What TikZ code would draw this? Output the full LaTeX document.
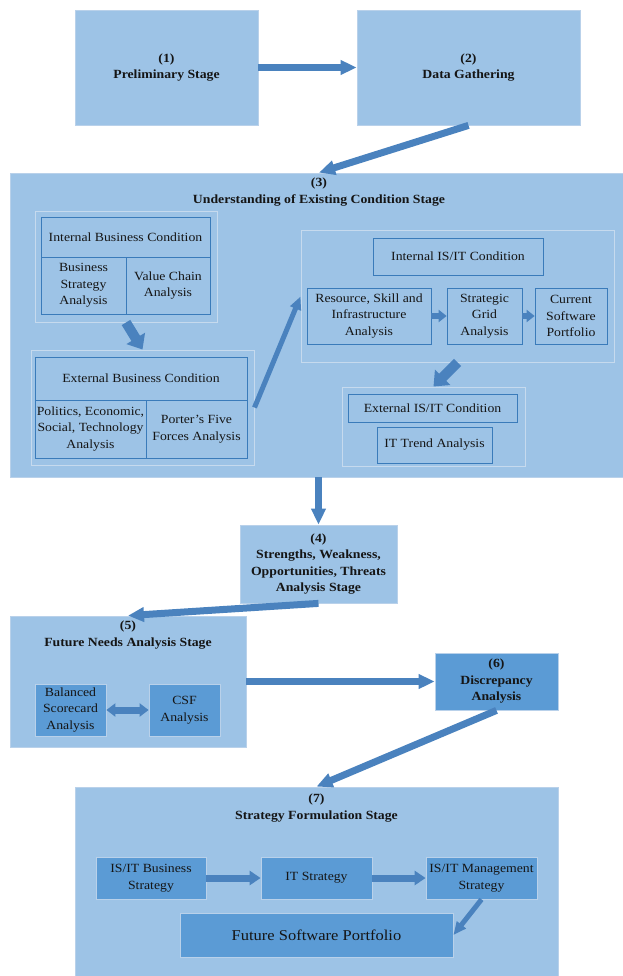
\documentclass[tikz,border=0pt]{standalone}
\usepackage{fontspec}
\setmainfont{Liberation Serif}[FakeStretch=1.1]
\usetikzlibrary{arrows.meta,calc}
\definecolor{lightfill}{HTML}{9DC3E6}
\definecolor{darkfill}{HTML}{5B9BD5}
\definecolor{arrowc}{HTML}{4A82BE}
\definecolor{tableline}{HTML}{3A7BBA}
\definecolor{grpline}{HTML}{C6DAEE}
\definecolor{boxline}{HTML}{B9D1EA}
\definecolor{ink}{HTML}{151515}
\begin{document}
\begin{tikzpicture}[x=1pt,y=-1pt,
  every node/.style={text=ink},
  stage/.style={draw=boxline, line width=0.8pt, fill=lightfill, inner sep=0pt,
    align=center, font=\bfseries\fontsize{12.5}{16.5}\selectfont},
  darkbox/.style={draw=boxline, line width=0.8pt, fill=darkfill, inner sep=0pt,
    align=center, font=\fontsize{12.5}{16.5}\selectfont},
  group/.style={draw=grpline, line width=1pt, fill=lightfill, inner sep=0pt},
  cell/.style={draw=tableline, line width=0.7pt, fill=lightfill, inner sep=0pt,
    align=center, font=\fontsize{12.5}{16.5}\selectfont},
  heading/.style={inner sep=0pt, align=center, anchor=north,
    font=\bfseries\fontsize{12.5}{16.5}\selectfont},
  flow/.style={draw=arrowc, line width=7pt, -{Triangle[width=14pt,length=16pt]}},
  thinflow/.style={draw=arrowc, line width=5pt, -{Triangle[width=11pt,length=13pt]}},
  chunky/.style={draw=arrowc, line width=10pt, -{Triangle[width=21pt,length=13pt]}},
  stepflow/.style={draw=arrowc, line width=7pt, -{Triangle[width=14pt,length=11pt]}},
  smallflow/.style={draw=arrowc, line width=6pt, -{Triangle[width=12pt,length=8pt]}},
  twoway/.style={draw=arrowc, line width=7pt, {Triangle[width=13pt,length=9pt]}-{Triangle[width=13pt,length=9pt]}},
]
\useasboundingbox (0,0) rectangle (622,976);

% ---- stages 1 and 2
\node[stage, minimum width=183pt, minimum height=115pt] (prelim) at (166.5,67.5) {(1)\\Preliminary Stage};
\node[stage, minimum width=223pt, minimum height=115pt] (gather) at (468.5,67.5) {(2)\\Data Gathering};

% ---- stage 3: existing condition
\node[stage, minimum width=614pt, minimum height=304pt] (existing) at (317,325) {};
\node[heading] (existtitle) at (319,178) {(3)\\Understanding of Existing Condition Stage};

% internal business condition
\node[group, minimum width=182pt, minimum height=110pt] (intbiz) at (126,267) {};
\node[cell, minimum width=169pt, minimum height=40pt] (intbizhead) at (125.5,237) {Internal Business Condition};
\node[cell, minimum width=85pt, minimum height=57pt] (bsa) at (83.5,285.5) {Business\\Strategy\\Analysis};
\node[cell, minimum width=84pt, minimum height=57pt] (vca) at (168,285.5) {Value Chain\\Analysis};

% external business condition
\node[group, minimum width=223pt, minimum height=115pt] (extbiz) at (142.5,407.5) {};
\node[cell, minimum width=212pt, minimum height=43pt] (extbizhead) at (141,378.5) {External Business Condition};
\node[cell, minimum width=111pt, minimum height=58pt] (pest) at (90.5,429) {Politics, Economic,\\Social, Technology\\Analysis};
\node[cell, minimum width=101pt, minimum height=58pt] (porter) at (196.5,429) {Porter’s Five\\Forces Analysis};

% internal IS/IT condition
\node[group, minimum width=313pt, minimum height=131pt] (intis) at (457.5,296.5) {};
\node[cell, minimum width=170pt, minimum height=37pt] (intishead) at (458,256.5) {Internal IS/IT Condition};
\node[cell, minimum width=124pt, minimum height=56pt] (resource) at (369,316) {Resource, Skill and\\Infrastructure\\Analysis};
\node[cell, minimum width=75pt, minimum height=56pt] (grid) at (484.5,316) {Strategic\\Grid\\Analysis};
\node[cell, minimum width=72pt, minimum height=56pt] (current) at (571,316) {Current\\Software\\Portfolio};

% external IS/IT condition
\node[group, minimum width=183pt, minimum height=79pt] (extis) at (433.5,426.5) {};
\node[cell, minimum width=169pt, minimum height=28pt] (extishead) at (432.5,408) {External IS/IT Condition};
\node[cell, minimum width=115pt, minimum height=36pt] (trend) at (434.5,445) {IT Trend Analysis};

% ---- stage 4: SWOT
\node[stage, minimum width=157pt, minimum height=78pt] (swot) at (318.5,564) {(4)\\Strengths, Weakness,\\Opportunities, Threats\\Analysis Stage};

% ---- stage 5: future needs
\node[stage, minimum width=236pt, minimum height=131pt] (future) at (128,681.5) {};
\node[heading] (futuretitle) at (128,621) {(5)\\Future Needs Analysis Stage};
\node[darkbox, minimum width=71pt, minimum height=52pt] (bsc) at (70.5,710) {Balanced\\Scorecard\\Analysis};
\node[darkbox, minimum width=71pt, minimum height=52pt] (csf) at (184.5,710) {CSF\\Analysis};

% ---- stage 6: discrepancy
\node[darkbox, font=\bfseries\fontsize{12.5}{16.5}\selectfont, minimum width=123pt, minimum height=57pt] (gap) at (496.5,681.5) {(6)\\Discrepancy\\Analysis};

% ---- stage 7: strategy formulation
\node[stage, minimum width=483pt, minimum height=192pt] (formulate) at (316.5,883) {};
\node[heading] (formtitle) at (316.5,794) {(7)\\Strategy Formulation Stage};
\node[darkbox, minimum width=110pt, minimum height=42pt] (isbiz) at (151,878) {IS/IT Business\\Strategy};
\node[darkbox, minimum width=111pt, minimum height=42pt] (itstrat) at (316.5,878) {IT Strategy};
\node[darkbox, minimum width=111pt, minimum height=42pt] (ismgmt) at (481.5,878) {IS/IT Management\\Strategy};
\node[darkbox, font=\fontsize{15}{18}\selectfont, minimum width=273pt, minimum height=44pt] (portfolio) at (316.5,935) {Future Software Portfolio};

% ---- connectors
\draw[flow] (prelim.east) -- (gather.west);
\draw[flow] (gather.south) -- (existing.north -| existtitle.north);
\draw[chunky] (intbiz.south) -- (extbiz.north);
\draw[thinflow] (extbiz.east) -- (intis.west);
\draw[smallflow] (resource.east) -- (grid.west);
\draw[smallflow] (grid.east) -- (current.west);
\draw[chunky] (intis.south) -- (extis.north);
\draw[flow] (swot.north |- existing.south) -- (swot.north);
\draw[flow] (swot.south) -- (future.north);
\draw[twoway] (bsc.east) -- (csf.west);
\draw[flow] (future.east |- gap.west) -- (gap.west);
\draw[flow] (gap.south) -- (formulate.north);
\draw[stepflow] (isbiz.east) -- (itstrat.west);
\draw[stepflow] (itstrat.east) -- (ismgmt.west);
\draw[thinflow] (ismgmt.south) -- (portfolio.east);
\end{tikzpicture}
\end{document}
